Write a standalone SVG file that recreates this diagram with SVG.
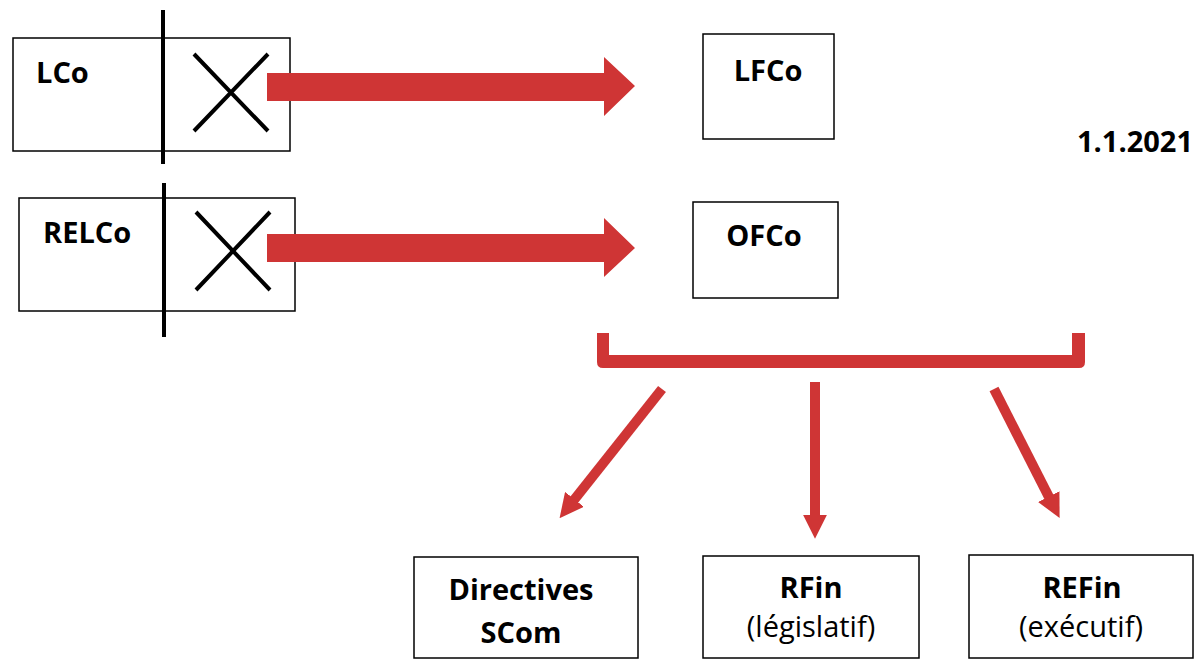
<svg xmlns="http://www.w3.org/2000/svg" width="1204" height="665" viewBox="0 0 1204 665">
<style>
.box{fill:#fff;stroke:#000;stroke-width:1.5}
.bar{stroke:#000;stroke-width:4}
.x{stroke:#000;stroke-width:4;fill:none}
.red{fill:#cf3535}
.redl{stroke:#cf3535;stroke-width:10;fill:none}
.t{font-family:"Open Sans","Liberation Sans",sans-serif;font-size:29px;font-weight:bold;fill:#000}
.n{font-family:"Open Sans","Liberation Sans",sans-serif;font-size:29px;fill:#000}
</style>
<defs>
<marker id="ah" viewBox="0 0 10 10" refX="3" refY="5" markerWidth="2.4" markerHeight="2.4" orient="auto" markerUnits="strokeWidth">
<path d="M0,0 L10,5 L0,10 z" fill="#cf3535"/>
</marker>
</defs>
<rect width="1204" height="665" fill="#fff"/>
<g id="lco">
<rect class="box" x="13" y="38" width="277" height="113"/>
<line class="bar" x1="163" y1="10" x2="163" y2="164"/>
<path class="x" d="M194,54 L268,131 M268,54 L194,131"/>
<text class="t" x="36" y="83">LCo</text>
</g>
<g id="relco">
<rect class="box" x="19" y="198" width="276" height="113"/>
<line class="bar" x1="164" y1="183" x2="164" y2="337"/>
<path class="x" d="M196,212 L270,290 M270,212 L196,290"/>
<text class="t" x="43" y="243">RELCo</text>
</g>
<g id="lfco">
<rect class="box" x="703" y="34" width="131" height="105"/>
<text class="t" x="768" y="81" text-anchor="middle">LFCo</text>
</g>
<g id="ofco">
<rect class="box" x="693" y="202" width="145" height="96"/>
<text class="t" x="764" y="246" text-anchor="middle">OFCo</text>
</g>
<g id="date">
<text class="t" x="1077" y="152">1.1.2021</text>
</g>
<g id="directives">
<rect class="box" x="414" y="557" width="224" height="101"/>
<text class="t" x="521" y="600" text-anchor="middle">Directives</text>
<text class="t" x="521" y="643" text-anchor="middle">SCom</text>
</g>
<g id="rfin">
<rect class="box" x="703" y="556" width="216" height="102"/>
<text class="t" x="811" y="598" text-anchor="middle">RFin</text>
<text class="n" x="811" y="637" text-anchor="middle">(législatif)</text>
</g>
<g id="refin">
<rect class="box" x="969" y="555" width="224" height="103"/>
<text class="t" x="1082" y="598" text-anchor="middle">REFin</text>
<text class="n" x="1081" y="637" text-anchor="middle">(exécutif)</text>
</g>
<g id="connectors">
<polygon class="red" points="267,73 604,73 604,57 635,86 604,116 604,101 267,101"/>
<polygon class="red" points="267,234 604,234 604,218 635,248 604,277 604,262 267,262"/>
<path class="red" d="M597,333 H609 V355 H1072 V333 H1085 V362 Q1085,368 1079,368 H603 Q597,368 597,362 Z"/>
<line class="redl" x1="662" y1="389" x2="570" y2="505" marker-end="url(#ah)"/>
<line class="redl" x1="815" y1="382" x2="815" y2="522" marker-end="url(#ah)"/>
<line class="redl" x1="994" y1="389" x2="1052" y2="503" marker-end="url(#ah)"/>
</g>
</svg>
